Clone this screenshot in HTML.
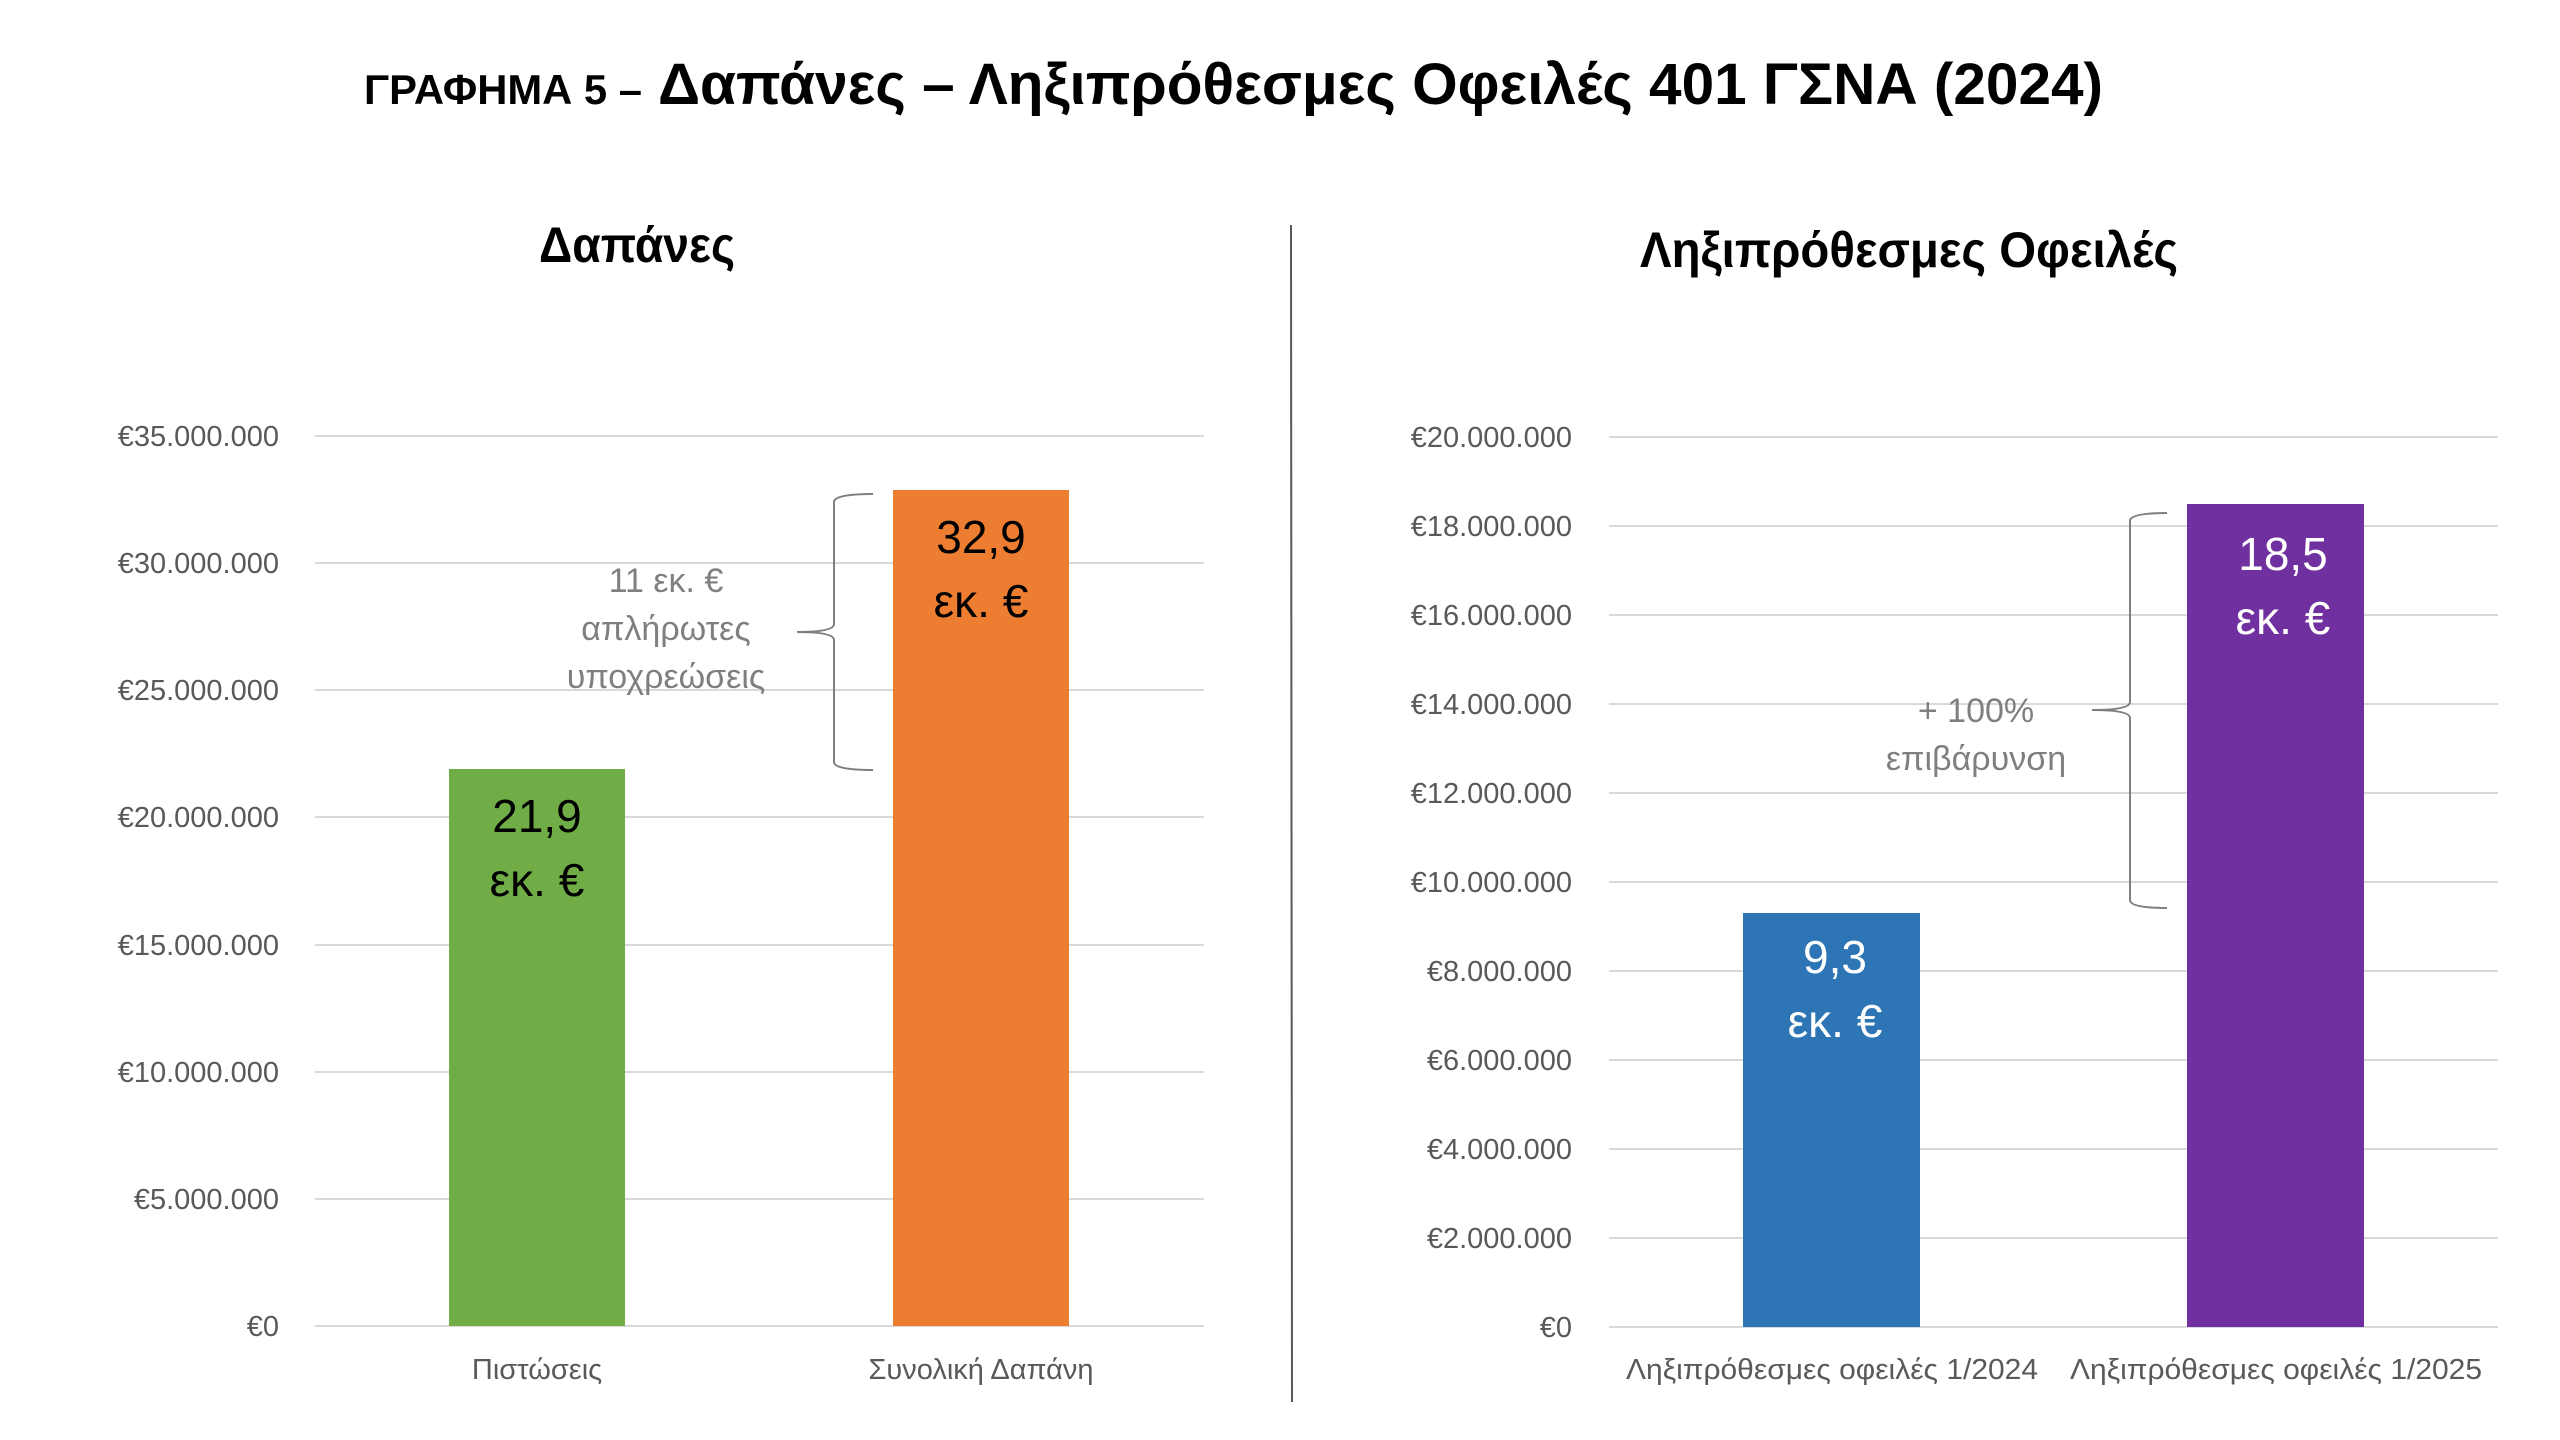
<!DOCTYPE html>
<html><head><meta charset="utf-8"><style>html,body{margin:0;padding:0;background:#fff}svg{display:block}</style></head>
<body>
<svg width="2560" height="1440" viewBox="0 0 2560 1440" xmlns="http://www.w3.org/2000/svg" font-family="Liberation Sans, DejaVu Sans, sans-serif">
<rect width="2560" height="1440" fill="#fff"/>
<text x="364" y="104" font-size="42" font-weight="bold" fill="#000" textLength="278" lengthAdjust="spacingAndGlyphs">ΓΡΑΦΗΜΑ 5 –</text>
<text x="658" y="104" font-size="58" font-weight="bold" fill="#000" textLength="1445" lengthAdjust="spacingAndGlyphs">Δαπάνες – Ληξιπρόθεσμες Οφειλές 401 ΓΣΝΑ (2024)</text>
<text x="637" y="262" font-size="50" font-weight="bold" fill="#000" text-anchor="middle" textLength="196" lengthAdjust="spacingAndGlyphs">Δαπάνες</text>
<text x="1909" y="267" font-size="50" font-weight="bold" fill="#000" text-anchor="middle" textLength="538" lengthAdjust="spacingAndGlyphs">Ληξιπρόθεσμες Οφειλές</text>
<line x1="1291" y1="225" x2="1292" y2="1402" stroke="#595959" stroke-width="2"/>
<g stroke="#d9d9d9" stroke-width="2">
<line x1="315" y1="436" x2="1204" y2="436"/><line x1="315" y1="563" x2="1204" y2="563"/><line x1="315" y1="690" x2="1204" y2="690"/><line x1="315" y1="817" x2="1204" y2="817"/><line x1="315" y1="945" x2="1204" y2="945"/><line x1="315" y1="1072" x2="1204" y2="1072"/><line x1="315" y1="1199" x2="1204" y2="1199"/><line x1="315" y1="1326" x2="1204" y2="1326"/>
<line x1="1609" y1="437" x2="2498" y2="437"/><line x1="1609" y1="526" x2="2498" y2="526"/><line x1="1609" y1="615" x2="2498" y2="615"/><line x1="1609" y1="704" x2="2498" y2="704"/><line x1="1609" y1="793" x2="2498" y2="793"/><line x1="1609" y1="882" x2="2498" y2="882"/><line x1="1609" y1="971" x2="2498" y2="971"/><line x1="1609" y1="1060" x2="2498" y2="1060"/><line x1="1609" y1="1149" x2="2498" y2="1149"/><line x1="1609" y1="1238" x2="2498" y2="1238"/><line x1="1609" y1="1327" x2="2498" y2="1327"/>
</g>
<g font-size="29" fill="#595959" text-anchor="end">
<text x="279" y="446">€35.000.000</text><text x="279" y="573">€30.000.000</text><text x="279" y="700">€25.000.000</text><text x="279" y="827">€20.000.000</text><text x="279" y="955">€15.000.000</text><text x="279" y="1082">€10.000.000</text><text x="279" y="1209">€5.000.000</text><text x="279" y="1336">€0</text>
<text x="1572" y="447">€20.000.000</text><text x="1572" y="536">€18.000.000</text><text x="1572" y="625">€16.000.000</text><text x="1572" y="714">€14.000.000</text><text x="1572" y="803">€12.000.000</text><text x="1572" y="892">€10.000.000</text><text x="1572" y="981">€8.000.000</text><text x="1572" y="1070">€6.000.000</text><text x="1572" y="1159">€4.000.000</text><text x="1572" y="1248">€2.000.000</text><text x="1572" y="1337">€0</text>
</g>
<g font-size="29" fill="#595959" text-anchor="middle">
<text x="537" y="1379">Πιστώσεις</text>
<text x="981" y="1379">Συνολική Δαπάνη</text>
<text x="1832" y="1379" textLength="412" lengthAdjust="spacingAndGlyphs">Ληξιπρόθεσμες οφειλές 1/2024</text>
<text x="2276" y="1379" textLength="412" lengthAdjust="spacingAndGlyphs">Ληξιπρόθεσμες οφειλές 1/2025</text>
</g>
<rect x="449" y="769" width="176" height="557" fill="#70ad47"/>
<rect x="893" y="490" width="176" height="836" fill="#ed7d31"/>
<rect x="1743" y="913" width="177" height="414" fill="#2e75b6"/>
<rect x="2187" y="504" width="177" height="823" fill="#7030a0"/>
<g font-size="46" text-anchor="middle">
<text x="537" y="832" fill="#000">21,9</text><text x="537" y="896" fill="#000">εκ. €</text>
<text x="981" y="553" fill="#000">32,9</text><text x="981" y="617" fill="#000">εκ. €</text>
<text x="1835" y="973" fill="#fff">9,3</text><text x="1835" y="1037" fill="#fff">εκ. €</text>
<text x="2283" y="570" fill="#fff">18,5</text><text x="2283" y="634" fill="#fff">εκ. €</text>
</g>
<g font-size="34" fill="#7f7f7f" text-anchor="middle">
<text x="666" y="592">11 εκ. €</text><text x="666" y="640">απλήρωτες</text><text x="666" y="688">υποχρεώσεις</text>
<text x="1976" y="722">+ 100%</text><text x="1976" y="770">επιβάρυνση</text>
</g>
<g fill="none" stroke="#7f7f7f" stroke-width="2">
<path d="M873 494 Q834 494 834 502 L834 624 Q834 632 797 632 Q834 632 834 640 L834 762 Q834 770 873 770"/>
<path d="M2167 513 Q2130 513 2130 521 L2130 702 Q2130 710 2092 710 Q2130 710 2130 718 L2130 900 Q2130 908 2167 908"/>
</g>
</svg>
</body></html>
